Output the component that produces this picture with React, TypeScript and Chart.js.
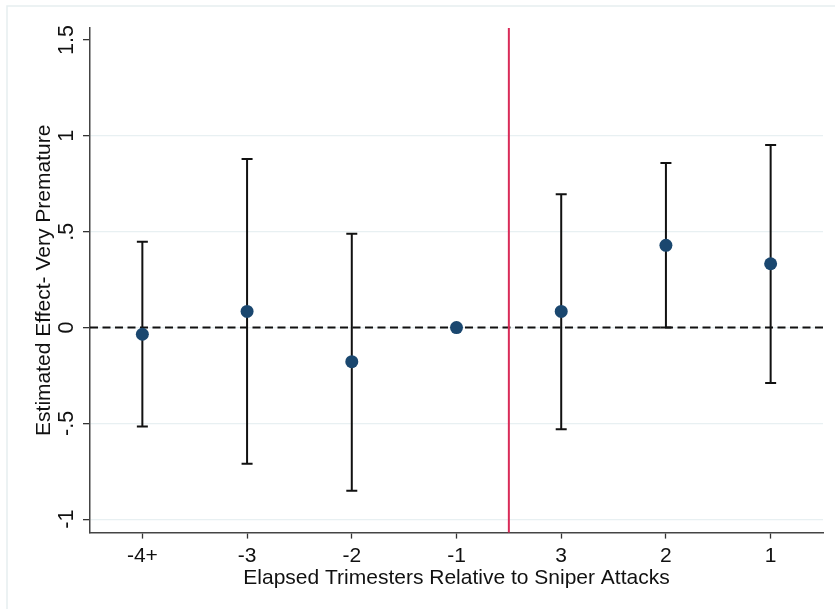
import React, { useEffect, useRef } from "react";
import { Chart, registerables } from "chart.js";

Chart.register(...registerables);

const categories = ["-4+", "-3", "-2", "-1", "3", "2", "1"];
const estimates = [-0.035, 0.084, -0.178, 0, 0.084, 0.429, 0.333];
const ciLower: (number | null)[] = [-0.517, -0.711, -0.852, null, -0.531, 0.0, -0.29];
const ciUpper: (number | null)[] = [0.448, 0.88, 0.49, null, 0.696, 0.859, 0.953];
const yTickValues = [-1, -0.5, 0, 0.5, 1, 1.5];
const yTickLabels = ["-1", "-.5", "0", ".5", "1", "1.5"];
const eventLinePosition = 3.5;
const xTitle = "Elapsed Trimesters Relative to Sniper Attacks";
const yTitle = "Estimated Effect- Very Premature";

const FONT = "'Liberation Sans', Arial, Helvetica, sans-serif";
const FS = 21;

const overlay = {
  id: "overlay",
  beforeDraw(chart: any) {
    const ctx = chart.ctx;
    ctx.save();
    ctx.strokeStyle = "#e6eef0";
    ctx.lineWidth = 1.5;
    ctx.beginPath();
    ctx.moveTo(7, chart.height);
    ctx.lineTo(7, 6);
    ctx.lineTo(chart.width, 6);
    ctx.stroke();
    ctx.restore();
  },
  beforeDatasetsDraw(chart: any) {
    const ctx = chart.ctx;
    const xs = chart.scales.x;
    const ys = chart.scales.y;
    const area = chart.chartArea;
    ctx.save();
    const y0 = ys.getPixelForValue(0);
    ctx.strokeStyle = "#111";
    ctx.lineWidth = 2;
    ctx.setLineDash([8, 4.5]);
    ctx.beginPath();
    ctx.moveTo(area.left, y0);
    ctx.lineTo(area.right, y0);
    ctx.stroke();
    ctx.setLineDash([]);
    const xe = xs.getPixelForValue(eventLinePosition);
    ctx.strokeStyle = "#d92b58";
    ctx.lineWidth = 2;
    ctx.beginPath();
    ctx.moveTo(xe, area.top);
    ctx.lineTo(xe, area.bottom);
    ctx.stroke();
    ctx.strokeStyle = "#111";
    ctx.lineWidth = 2;
    categories.forEach((_, i) => {
      const lo = ciLower[i];
      const hi = ciUpper[i];
      if (lo == null || hi == null) return;
      const x = xs.getPixelForValue(i);
      const yl = ys.getPixelForValue(lo);
      const yh = ys.getPixelForValue(hi);
      ctx.beginPath();
      ctx.moveTo(x, yl);
      ctx.lineTo(x, yh);
      ctx.moveTo(x - 5.5, yl);
      ctx.lineTo(x + 5.5, yl);
      ctx.moveTo(x - 5.5, yh);
      ctx.lineTo(x + 5.5, yh);
      ctx.stroke();
    });
    ctx.restore();
  },
  afterDraw(chart: any) {
    const ctx = chart.ctx;
    const ys = chart.scales.y;
    const area = chart.chartArea;
    ctx.save();
    ctx.fillStyle = "#111";
    ctx.font = `${FS + 0.5}px ${FONT}`;
    ctx.textAlign = "center";
    ctx.textBaseline = "middle";
    yTickValues.forEach((v, i) => {
      const y = ys.getPixelForValue(v);
      ctx.save();
      ctx.translate(67, y);
      ctx.rotate(-Math.PI / 2);
      ctx.fillText(yTickLabels[i], 0, 0);
      ctx.restore();
    });
    ctx.font = `${FS}px ${FONT}`;
    ctx.save();
    ctx.translate(44, (area.top + area.bottom) / 2);
    ctx.rotate(-Math.PI / 2);
    ctx.fillText(yTitle, 0, 0);
    ctx.restore();
    ctx.restore();
  },
};

export default function App() {
  const ref = useRef<HTMLCanvasElement>(null);
  useEffect(() => {
    if (!ref.current) return;
    const chart = new Chart(ref.current, {
      type: "line",
      data: {
        labels: categories,
        datasets: [
          {
            data: estimates,
            showLine: false,
            pointRadius: 6.5,
            pointHoverRadius: 6.5,
            pointBackgroundColor: "#1a476f",
            pointBorderColor: "#1a476f",
            pointBorderWidth: 0,
          },
        ],
      },
      options: {
        animation: false,
        responsive: false,
        devicePixelRatio: 1,
        layout: { padding: { left: 83, top: 28, right: 12, bottom: 18 } },
        plugins: { legend: { display: false }, tooltip: { enabled: false } },
        scales: {
          x: {
            type: "category",
            offset: true,
            grid: {
              display: true,
              drawOnChartArea: false,
              drawTicks: true,
              tickLength: 6,
              tickColor: "#333",
              tickWidth: 1.3,
            },
            border: { display: true, color: "#444", width: 1.5 },
            ticks: {
              font: { size: FS, family: FONT },
              color: "#111",
              padding: 5,
              maxRotation: 0,
              autoSkip: false,
            },
            title: {
              display: true,
              text: xTitle,
              font: { size: FS, family: FONT },
              color: "#111",
              padding: { top: -8, bottom: 0 },
            },
          },
          y: {
            type: "linear",
            min: -1.07,
            max: 1.563,
            afterBuildTicks: (s: any) => {
              s.ticks = yTickValues.map((v) => ({ value: v }));
            },
            ticks: { display: false },
            grid: {
              color: (c: any) =>
                c.tick && c.tick.value === 1.5 ? "rgba(0,0,0,0)" : "#e8f0f2",
              lineWidth: 1.3,
              drawTicks: true,
              tickLength: 7,
              tickColor: "#333",
              tickWidth: 1.3,
            },
            border: { display: true, color: "#444", width: 1.5 },
          },
        },
      },
      plugins: [overlay],
    });
    return () => chart.destroy();
  }, []);
  return (
    <div style={{ position: "fixed", left: 0, top: 0, width: 835, height: 609, background: "#fff" }}>
      <canvas ref={ref} width={835} height={609} style={{ display: "block" }} />
    </div>
  );
}
